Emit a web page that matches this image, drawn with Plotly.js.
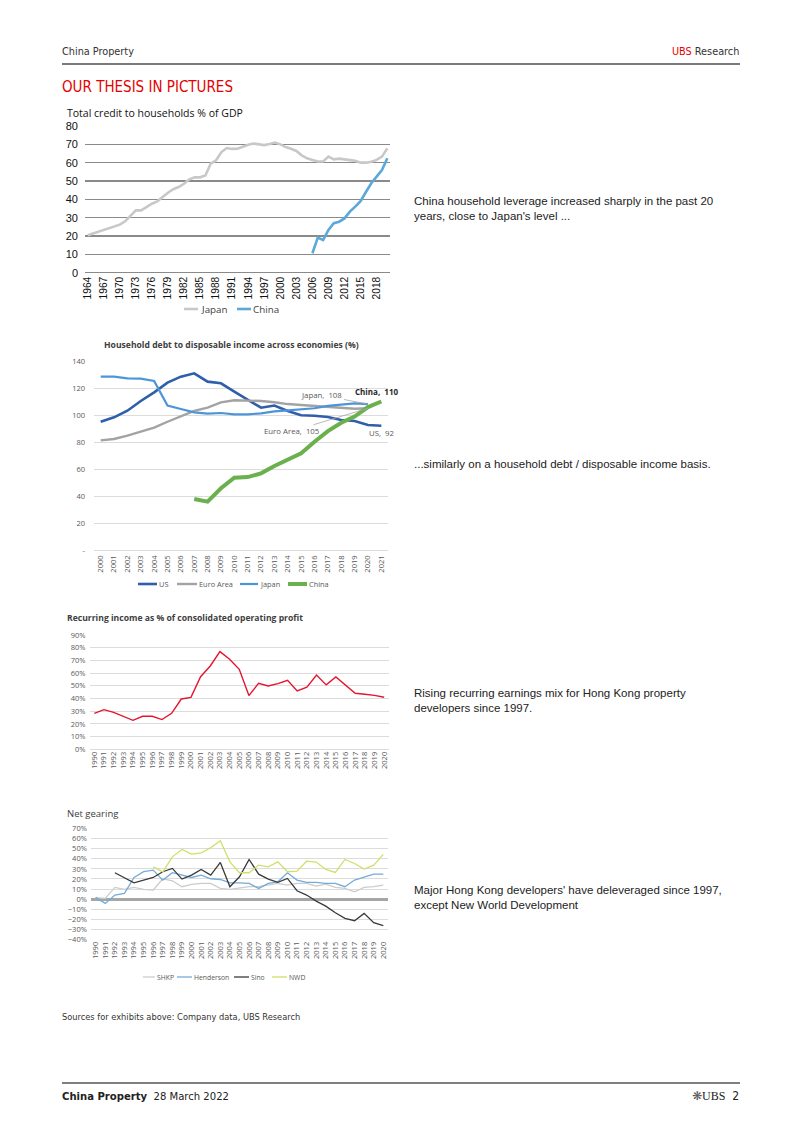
<!DOCTYPE html>
<html><head><meta charset="utf-8">
<script src="https://cdn.plot.ly/plotly-3.0.1.min.js"></script>
<style>html,body{margin:0;padding:0;background:#fff}#plot{width:802px;height:1134px}</style>
</head><body><div id="plot"></div>
<script>
const W = 802, H = 1134;
const px = x => x / W;
const py = y => 1 - y / H;
const range = (a, b) => { const r = []; for (let i = a; i <= b; i++) r.push(i); return r; };

// ---------- Chart 1: Total credit to households % of GDP ----------
const c1YearsJapan = range(1964, 2020);
const c1Japan = [20.4,21.3,22.2,23.1,24.0,24.9,26.2,28.0,31.3,34.0,34.0,35.8,37.6,38.9,41.3,43.6,45.5,46.7,48.5,50.9,52.0,52.0,53.0,59.5,61.3,65.8,68.0,67.5,67.6,68.8,69.8,70.4,70.0,69.6,70.2,71.0,70.0,68.5,67.6,66.4,64.0,62.4,61.5,60.6,60.6,63.3,61.8,62.2,61.8,61.6,61.0,60.0,60.0,60.5,61.5,63.3,67.8];
const c1YearsChina = range(2006, 2020);
const c1China = [10.6,19.1,17.8,23.3,27.0,27.8,29.6,33.3,36.0,39.0,44.0,48.8,52.4,56.0,62.4];
const c1TickYears = [1964,1967,1970,1973,1976,1979,1982,1985,1988,1991,1994,1997,2000,2003,2006,2009,2012,2015,2018];

// ---------- Chart 2: Household debt to disposable income ----------
const c2Years = range(2000, 2021);
const c2US = [95.0,98.3,103.2,110.4,116.8,124.0,128.4,130.9,124.7,123.5,117.3,111.6,105.4,107.0,103.0,99.8,99.5,98.5,96.3,95.6,92.6,92];
const c2EuroYears = range(2000, 2020);
const c2Euro = [81.2,82.2,84.7,87.4,90.6,95.0,98.8,103.0,105.4,109.4,110.9,110.9,110.4,109.4,108.1,107.4,106.7,106.2,105.0,104.6,105];
const c2JapanYears = range(2000, 2020);
const c2Japan = [128.4,128.4,127.2,126.9,125.2,107.0,104.4,102.0,101.0,101.5,100.5,100.5,101.2,102.7,103.5,104.2,105.0,106.7,107.4,108.6,108];
const c2ChinaYears = range(2007, 2021);
const c2China = [37.8,35.8,45.7,53.6,54.0,56.8,62.2,66.7,71.6,80.2,88.1,94.3,98.8,105.9,110];
const c2YTicks = [0,20,40,60,80,100,120,140];
const c2YTickText = ['-','20','40','60','80','100','120','140'];

// ---------- Chart 3: Recurring income as % of operating profit ----------
const c3Years = range(1990, 2020);
const c3Recurring = [28.3,31.2,29.1,26.2,22.8,26.0,26.0,23.4,28.3,39.6,40.9,57.2,65.6,76.9,70.9,63.0,42.3,52.0,49.9,51.7,54.3,45.9,49.0,58.5,50.7,57.0,50.7,44.1,43.3,42.5,41.0];

// ---------- Chart 4: Net gearing ----------
const c4Years = range(1990, 2020);
const c4SHKP = [1.3,0.7,11.6,9.6,11.6,9.6,9.0,20.2,18.2,12.3,14.6,15.6,15.6,10.6,9.6,10.6,12.3,12.3,13.9,15.6,13.9,15.6,15.6,12.9,14.9,11.6,10.6,7.3,11.6,12.3,13.9];
const c4Henderson = [1.7,-4.3,4.0,5.6,21.5,27.2,28.8,18.9,26.2,23.8,21.5,23.8,20.2,19.5,16.2,16.2,15.6,10.6,15.6,17.2,26.2,18.9,16.6,16.6,15.6,15.6,12.3,18.9,21.5,24.8,24.8];
const c4SinoYears = range(1992, 2020);
const c4Sino = [26.2,21.2,16.2,18.9,21.5,27.2,30.5,19.9,23.8,29.5,23.8,36.4,12.3,22.2,39.4,24.8,19.9,16.6,20.5,8.3,4.0,-2.0,-7.0,-13.6,-19.2,-21.5,-14.2,-23.5,-26.5];
const c4NWDYears = range(1996, 2020);
const c4NWD = [32.0,27.0,42.0,49.3,44.7,46.0,51.0,58.0,37.0,26.2,26.2,33.8,32.0,37.0,27.2,27.8,37.7,36.8,29.5,26.5,39.4,35.4,29.8,33.8,44.4];

const SANS = 'Liberation Sans, Arial, sans-serif';
const NARROW = 'DejaVu Sans Condensed, Liberation Sans Narrow, sans-serif';
const OPEN = 'Open Sans, Noto Sans, sans-serif';

const C = {
  c1Japan: '#c8c8c8', c1China: '#5aa9d8',
  us: '#2f5eaa', euro: '#a3a3a3', japan: '#4d95d9', china: '#6ab04c',
  red: '#e5142f',
  shkp: '#cccccc', hend: '#74acd8', sino: '#3a3a3a', nwd: '#d2de6a'
};

const traces = [
  {x: c1YearsJapan, y: c1Japan, name: 'Japan', type: 'scatter', mode: 'lines', line: {color: C.c1Japan, width: 2.6}, xaxis: 'x', yaxis: 'y'},
  {x: c1YearsChina, y: c1China, name: 'China', type: 'scatter', mode: 'lines', line: {color: C.c1China, width: 2.6}, xaxis: 'x', yaxis: 'y'},

  {x: c2Years, y: c2US, name: 'US', type: 'scatter', mode: 'lines', line: {color: C.us, width: 2.6}, xaxis: 'x2', yaxis: 'y2'},
  {x: c2EuroYears, y: c2Euro, name: 'Euro Area', type: 'scatter', mode: 'lines', line: {color: C.euro, width: 2.4}, xaxis: 'x2', yaxis: 'y2'},
  {x: c2JapanYears, y: c2Japan, name: 'Japan', type: 'scatter', mode: 'lines', line: {color: C.japan, width: 2.2}, xaxis: 'x2', yaxis: 'y2'},
  {x: c2ChinaYears, y: c2China, name: 'China', type: 'scatter', mode: 'lines', line: {color: C.china, width: 4}, xaxis: 'x2', yaxis: 'y2'},

  {x: c3Years, y: c3Recurring, name: 'Recurring', type: 'scatter', mode: 'lines', line: {color: C.red, width: 1.4}, xaxis: 'x3', yaxis: 'y3'},

  {x: c4Years, y: c4SHKP, name: 'SHKP', type: 'scatter', mode: 'lines', line: {color: C.shkp, width: 1.3}, xaxis: 'x4', yaxis: 'y4'},
  {x: c4Years, y: c4Henderson, name: 'Henderson', type: 'scatter', mode: 'lines', line: {color: C.hend, width: 1.3}, xaxis: 'x4', yaxis: 'y4'},
  {x: c4SinoYears, y: c4Sino, name: 'Sino', type: 'scatter', mode: 'lines', line: {color: C.sino, width: 1.3}, xaxis: 'x4', yaxis: 'y4'},
  {x: c4NWDYears, y: c4NWD, name: 'NWD', type: 'scatter', mode: 'lines', line: {color: C.nwd, width: 1.3}, xaxis: 'x4', yaxis: 'y4'}
];

const smallTick = {family: OPEN, size: 7.5, color: '#595959'};

const layout = {
  width: W, height: H,
  margin: {l: 0, r: 0, t: 0, b: 0},
  paper_bgcolor: '#fff', plot_bgcolor: 'rgba(0,0,0,0)',
  showlegend: false,
  font: {family: SANS, color: '#333'},
  // chart 1
  xaxis: {domain: [px(85), px(390)], anchor: 'y', range: [1963.5, 2020.5], tickvals: c1TickYears, tickangle: -90,
          tickfont: {family: SANS, size: 10.2, color: '#111'}, showgrid: false, zeroline: false, showline: false, ticks: '', ticklabelstandoff: 1},
  yaxis: {domain: [py(272.7), py(126)], anchor: 'x', range: [0, 80], dtick: 10, tickfont: {family: SANS, size: 11, color: '#111'},
          gridcolor: '#8a8a8a', gridwidth: 1.4, zeroline: true, zerolinecolor: '#8a8a8a', zerolinewidth: 1.4, ticks: '', ticklabelstandoff: 6},
  // chart 2
  xaxis2: {domain: [px(94), px(388)], anchor: 'y2', range: [1999.5, 2021.5], tickvals: c2Years, tickangle: -90,
           tickfont: smallTick, showgrid: false, zeroline: false, showline: false, ticks: '', ticklabelstandoff: 3},
  yaxis2: {domain: [py(550), py(361)], anchor: 'x2', range: [0, 140], tickvals: c2YTicks, ticktext: c2YTickText,
           tickfont: smallTick, gridcolor: '#dcdcdc', gridwidth: 1, zeroline: true, zerolinecolor: '#dcdcdc', zerolinewidth: 1, ticklabelstandoff: 8},
  // chart 3
  xaxis3: {domain: [px(89.5), px(389)], anchor: 'y3', range: [1989.5, 2020.5], tickvals: c3Years, tickangle: -90,
           tickfont: smallTick, showgrid: false, zeroline: false, showline: false, ticks: ''},
  yaxis3: {domain: [py(749.3), py(635)], anchor: 'x3', range: [0, 90], dtick: 10, ticksuffix: '%',
           tickfont: smallTick, gridcolor: '#dcdcdc', gridwidth: 1, zeroline: true, zerolinecolor: '#dcdcdc', zerolinewidth: 1, ticklabelstandoff: 3},
  // chart 4
  xaxis4: {domain: [px(90.9), px(388.1)], anchor: 'y4', range: [1989.5, 2020.5], tickvals: c4Years, tickangle: -90,
           tickfont: smallTick, showgrid: false, zeroline: false, showline: false, ticks: ''},
  yaxis4: {domain: [py(939.3), py(828.7)], anchor: 'x4', range: [-40, 70], dtick: 10, ticksuffix: '%',
           tickfont: smallTick, gridcolor: '#dcdcdc', gridwidth: 1, zeroline: true, zerolinecolor: '#a6a6a6', zerolinewidth: 3, ticklabelstandoff: 3},

  shapes: [
    {type: 'line', xref: 'paper', yref: 'paper', x0: px(62), x1: px(740), y0: py(64), y1: py(64), line: {color: '#7a7a7a', width: 2}},
    {type: 'line', xref: 'paper', yref: 'paper', x0: px(62), x1: px(740), y0: py(1083), y1: py(1083), line: {color: '#555', width: 1.5}}
  ],
  annotations: []
};

const A = layout.annotations;
const S = layout.shapes;
function txt(text, x, y, opts) {
  A.push(Object.assign({text: text, xref: 'paper', yref: 'paper', x: px(x), y: py(y), showarrow: false,
    xanchor: 'left', yanchor: 'middle', align: 'left', borderpad: 0, font: {family: SANS, size: 12, color: '#333'}}, opts || {}));
}
// custom legend: entries [name, color, width, lineX0, lineX1, textX]
function legend(entries, y, font) {
  entries.forEach(e => {
    S.push({type: 'line', xref: 'paper', yref: 'paper', x0: px(e[3]), x1: px(e[4]), y0: py(y), y1: py(y), line: {color: e[1], width: e[2]}});
    txt(e[0], e[5], y, {font: font});
  });
}

// header/footer
txt('China Property', 61, 51, {font: {family: NARROW, size: 10.8, color: '#333'}});
txt('<span style="color:#e60000">UBS</span> Research', 740, 51, {xanchor: 'right', font: {family: NARROW, size: 10.8, color: '#333'}});
txt('OUR THESIS IN PICTURES', 61, 87, {font: {family: NARROW, size: 15, color: '#e60000'}});
txt('Sources for exhibits above: Company data, UBS Research', 61, 1016, {font: {family: NARROW, size: 9.2, color: '#333'}});
txt('<b>China Property</b>  28 March 2022', 61, 1096, {font: {family: NARROW, size: 11.2, color: '#222'}});
txt('<span style="font-family:DejaVu Sans;color:#555">❋</span><span style="font-family:Liberation Serif">UBS</span>  2', 740, 1096, {xanchor: 'right', font: {family: NARROW, size: 12, color: '#222'}});

// chart titles
txt('Total credit to households % of GDP', 66, 113, {font: {family: OPEN, size: 10.5, color: '#111'}});
txt('<b>Household debt to disposable income across economies (%)</b>', 231, 345, {xanchor: 'center', font: {family: OPEN, size: 8.6, color: '#404040'}});
txt('<b>Recurring income as % of consolidated operating profit</b>', 66, 618, {font: {family: OPEN, size: 8.6, color: '#404040'}});
txt('Net gearing', 66, 813, {font: {family: OPEN, size: 9.5, color: '#404040'}});

// legends
legend([['Japan', C.c1Japan, 2.6, 184, 198, 200], ['China', C.c1China, 2.6, 237, 251, 252]], 309, {family: OPEN, size: 9.8, color: '#404040'});
legend([['US', C.us, 2.6, 138, 157, 158], ['Euro Area', C.euro, 2.4, 177, 197, 198], ['Japan', C.japan, 2.2, 240, 258, 259], ['China', C.china, 4, 288, 307, 308]],
       584, {family: OPEN, size: 7.4, color: '#595959'});
legend([['SHKP', C.shkp, 1.3, 143, 155, 156], ['Henderson', C.hend, 1.3, 177, 192, 193], ['Sino', C.sino, 1.3, 234, 249, 250], ['NWD', C.nwd, 1.3, 272, 287, 288]],
       977, {family: OPEN, size: 6.8, color: '#595959'});

// right-hand commentary
const bodyFont = {family: SANS, size: 11.5, color: '#222'};
txt("China household leverage increased sharply in the past 20<br>years, close to Japan's level ...", 413, 209, {font: bodyFont});
txt('...similarly on a household debt / disposable income basis.', 413, 464, {font: bodyFont});
txt('Rising recurring earnings mix for Hong Kong property<br>developers since 1997.', 413, 700, {font: bodyFont});
txt("Major Hong Kong developers' have deleveraged since 1997,<br>except New World Development", 413, 897, {font: bodyFont});

// chart 2 data labels
const lblFont = {family: OPEN, size: 7.8, color: '#595959'};
const lastJ = c2Japan[c2Japan.length - 1], lastE = c2Euro[c2Euro.length - 1];
const lastU = c2US[c2US.length - 1], lastC = c2China[c2China.length - 1];
A.push({xref: 'x2', yref: 'y2', x: c2JapanYears[c2JapanYears.length - 1], y: lastJ, text: 'Japan,  ' + lastJ, showarrow: true, arrowhead: 0,
        arrowwidth: 0.8, arrowcolor: '#a6a6a6', ax: -46, ay: -9, font: lblFont, standoff: 0});
A.push({xref: 'x2', yref: 'y2', x: c2EuroYears[c2EuroYears.length - 1], y: lastE, text: 'Euro Area,  ' + lastE, showarrow: true, arrowhead: 0,
        arrowwidth: 0.8, arrowcolor: '#a6a6a6', ax: -76, ay: 23, font: lblFont, standoff: 0});
A.push({xref: 'x2', yref: 'y2', x: c2Years[c2Years.length - 1], y: lastU, text: 'US,  ' + lastU, showarrow: false, xshift: 0, yshift: -7, font: lblFont});
A.push({xref: 'x2', yref: 'y2', x: c2ChinaYears[c2ChinaYears.length - 1], y: lastC, text: '<b>China,  ' + lastC + '</b>', showarrow: false, xshift: -5, yshift: 10,
        font: {family: OPEN, size: 8, color: '#262626'}});

Plotly.newPlot('plot', traces, layout, {staticPlot: true});
</script>
</body></html>
